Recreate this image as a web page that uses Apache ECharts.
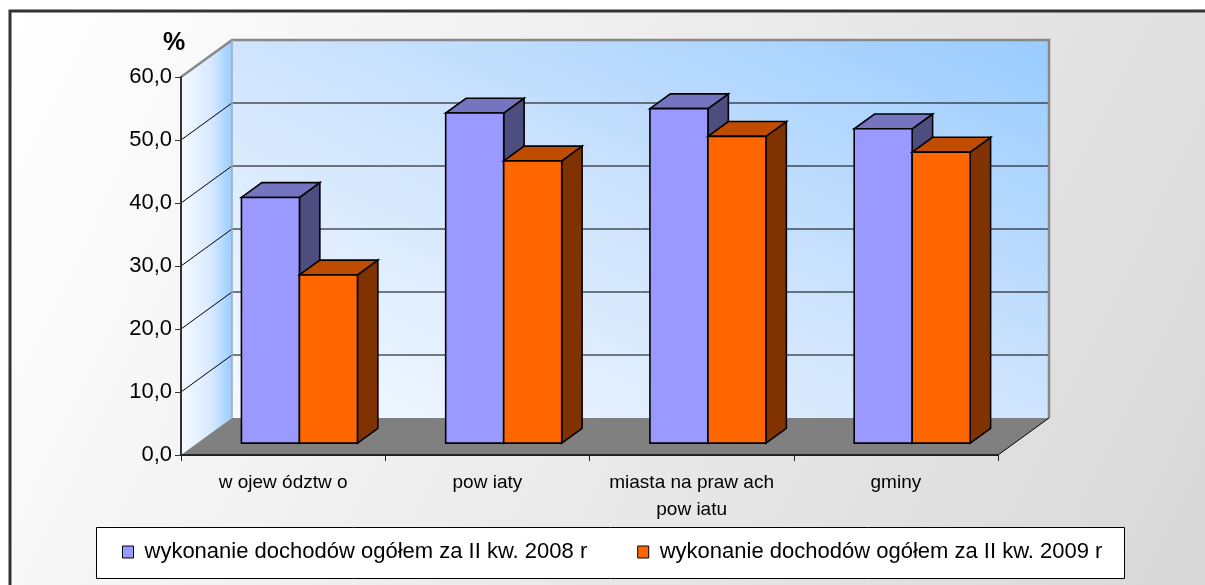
<!DOCTYPE html>
<html>
<head>
<meta charset="utf-8">
<script src="https://cdn.jsdelivr.net/npm/echarts@6/dist/echarts.min.js"></script>
<style>
  html, body { margin: 0; padding: 0; background: #fff; overflow: hidden; }
  #chart { width: 1205px; height: 585px; }
</style>
</head>
<body>
<div id="chart"></div>
<script>
// ---- data ----
const categories = ['w ojew ództw o', 'pow iaty', 'miasta na praw ach\npow iatu', 'gminy'];
const seriesNames = ['wykonanie dochodów ogółem za II kw. 2008 r', 'wykonanie dochodów ogółem za II kw. 2009 r'];
const values2008 = [39.0, 52.4, 53.1, 49.9];
const values2009 = [26.7, 44.8, 48.7, 46.2];
const yTicks = [0, 10, 20, 30, 40, 50, 60];
const yUnit = '%';

const DX = 51, DY = -37;
const F0 = 0.32, F1 = 0.72;
const BAR_FRAC = 0.284;

const chart = echarts.init(document.getElementById('chart'), null, { renderer: 'canvas' });

function wallsRender(params, api) {
  const band = api.size([1, 0])[0];
  const xl = api.coord([0, 0])[0] - band / 2;
  const xr = api.coord([categories.length - 1, 0])[0] + band / 2;
  const y0 = api.coord([0, yTicks[0]])[1];
  const yT = api.coord([0, yTicks[yTicks.length - 1]])[1];
  const children = [];
  const W = xr - xl, H = y0 - yT;
  const cx = (xl + xr) / 2 + DX, cy = (yT + y0) / 2 + DY;
  const len = Math.sqrt(W * W + H * H);
  const ux = H / len, uy = -W / len;
  const half = (W / 2 * H + H / 2 * W) / len;
  const backGrad = new echarts.graphic.LinearGradient(
    cx - ux * half, cy - uy * half, cx + ux * half, cy + uy * half,
    [{ offset: 0, color: '#f6faff' }, { offset: 0.5, color: '#cfe4fd' }, { offset: 1, color: '#99ccff' }], true);
  children.push({ type: 'rect', shape: { x: xl + DX, y: yT + DY, width: W, height: H }, style: { fill: backGrad } });
  children.push({
    type: 'polygon',
    shape: { points: [[xl, yT], [xl + DX, yT + DY], [xl + DX, y0 + DY], [xl, y0]] },
    style: { fill: { type: 'linear', x: 0, y: 0, x2: 1, y2: 0, colorStops: [
      { offset: 0, color: '#f6faff' }, { offset: 0.6, color: '#d6e9fe' }, { offset: 1, color: '#99ccff' }] } }
  });
  yTicks.forEach(function (v, i) {
    if (i === 0 || i === yTicks.length - 1) return;
    const y = api.coord([0, v])[1];
    children.push({ type: 'line', shape: { x1: xl, y1: y, x2: xl + DX, y2: y + DY }, style: { stroke: '#000', lineWidth: 1 } });
    children.push({ type: 'line', shape: { x1: xl + DX, y1: y + DY, x2: xr + DX, y2: y + DY }, style: { stroke: '#000', lineWidth: 1 } });
  });
  children.push({ type: 'polyline',
    shape: { points: [[xl, yT], [xl + DX, yT + DY], [xr + DX, yT + DY], [xr + DX, y0 + DY]] },
    style: { stroke: '#888', lineWidth: 2.5, fill: null } });
  children.push({ type: 'line', shape: { x1: xl + DX, y1: yT + DY, x2: xl + DX, y2: y0 + DY }, style: { stroke: '#9ab', lineWidth: 1.5 } });
  children.push({ type: 'polygon', shape: { points: [[xl, y0], [xr, y0], [xr + DX, y0 + DY], [xl + DX, y0 + DY]] }, style: { fill: '#808080' } });
  children.push({ type: 'line', shape: { x1: xr, y1: y0, x2: xr + DX, y2: y0 + DY }, style: { stroke: '#000', lineWidth: 1 } });
  return { type: 'group', children: children };
}

function barRender(side, front, topC, sideC) {
  return function (params, api) {
    const ci = api.value(0), v = api.value(1);
    const pt = api.coord([ci, v]);
    const pb = api.coord([ci, 0]);
    const band = api.size([1, 0])[0];
    const w = band * BAR_FRAC;
    const cx = pt[0] + DX * F0;
    const x0 = side === 0 ? cx - w : cx;
    const x1 = x0 + w;
    const yt = pt[1] + DY * F0;
    const yb = pb[1] + DY * F0;
    const ddx = DX * (F1 - F0), ddy = DY * (F1 - F0);
    const st = { stroke: '#000', lineWidth: 1.6, lineJoin: 'miter' };
    return { type: 'group', children: [
      { type: 'polygon', shape: { points: [[x1, yt], [x1 + ddx, yt + ddy], [x1 + ddx, yb + ddy], [x1, yb]] }, style: Object.assign({ fill: sideC }, st) },
      { type: 'polygon', shape: { points: [[x0, yt], [x1, yt], [x1 + ddx, yt + ddy], [x0 + ddx, yt + ddy]] }, style: Object.assign({ fill: topC }, st) },
      { type: 'rect', shape: { x: x0, y: yt, width: w, height: yb - yt }, style: Object.assign({ fill: front }, st) }
    ] };
  };
}

const fmt = function (v) { return v.toFixed(1).replace('.', ','); };
const FONT = '"Liberation Sans", Arial, sans-serif';

const option = {
  animation: false,
  backgroundColor: '#ffffff',
  graphic: [
    { type: 'rect', z: -100, shape: { x: 10, y: 11, width: 1195, height: 574 },
      style: { fill: new echarts.graphic.LinearGradient(10, 11, 1205, 585,
        [{ offset: 0, color: '#ffffff' }, { offset: 1, color: '#d8d8d8' }], true) } },
    { type: 'polyline', z: -90, shape: { points: [[10, 585], [10, 11], [1205, 11]] },
      style: { stroke: '#333', lineWidth: 3, fill: null } },
    { type: 'rect', z: 50, shape: { x: 96.5, y: 527.5, width: 1028, height: 51 },
      style: { fill: '#ffffff', stroke: '#000', lineWidth: 1 } },
    { type: 'text', z: 60, left: 163, top: 31,
      style: { text: yUnit, font: 'bold 25px ' + FONT, fill: '#000' } }
  ],
  legend: {
    z: 60, left: 122, top: 541,
    itemWidth: 11, itemHeight: 12, itemGap: 50,
    icon: 'rect', padding: 0, data: seriesNames,
    textStyle: { fontFamily: FONT, fontSize: 22, color: '#000', padding: [0, 0, 0, 6] },
    itemStyle: { borderColor: '#000', borderWidth: 1 }
  },
  grid: { left: 181, top: 77, width: 817, height: 378, containLabel: false },
  xAxis: {
    type: 'category', data: categories, z: 10,
    axisLine: { show: true, lineStyle: { color: '#222', width: 2 } },
    axisTick: { show: true, length: 6, lineStyle: { color: '#222', width: 1 } },
    axisLabel: { interval: 0, margin: 14, color: '#000', fontSize: 19, lineHeight: 27, fontFamily: FONT },
    splitLine: { show: false }
  },
  yAxis: {
    type: 'value', min: yTicks[0], max: yTicks[yTicks.length - 1], interval: 10, z: 10,
    axisLine: { show: true, lineStyle: { color: '#333', width: 2 } },
    axisTick: { show: true, length: 6, lineStyle: { color: '#333', width: 1 } },
    axisLabel: { formatter: fmt, margin: 9, color: '#000', fontSize: 22, fontFamily: FONT },
    splitLine: { show: false }
  },
  series: [
    { type: 'custom', name: '_walls', z: 1, silent: true, renderItem: wallsRender, data: [[0, 0]] },
    { type: 'custom', name: seriesNames[0], z: 3,
      itemStyle: { color: '#9999ff', borderColor: '#000', borderWidth: 1 },
      renderItem: barRender(0, '#9999ff', '#7474c0', '#4d4d80'),
      data: values2008.map(function (v, i) { return [i, v]; }) },
    { type: 'custom', name: seriesNames[1], z: 4,
      itemStyle: { color: '#ff6600', borderColor: '#000', borderWidth: 1 },
      renderItem: barRender(1, '#ff6600', '#c04c00', '#803300'),
      data: values2009.map(function (v, i) { return [i, v]; }) }
  ]
};
chart.setOption(option);
</script>
</body>
</html>
